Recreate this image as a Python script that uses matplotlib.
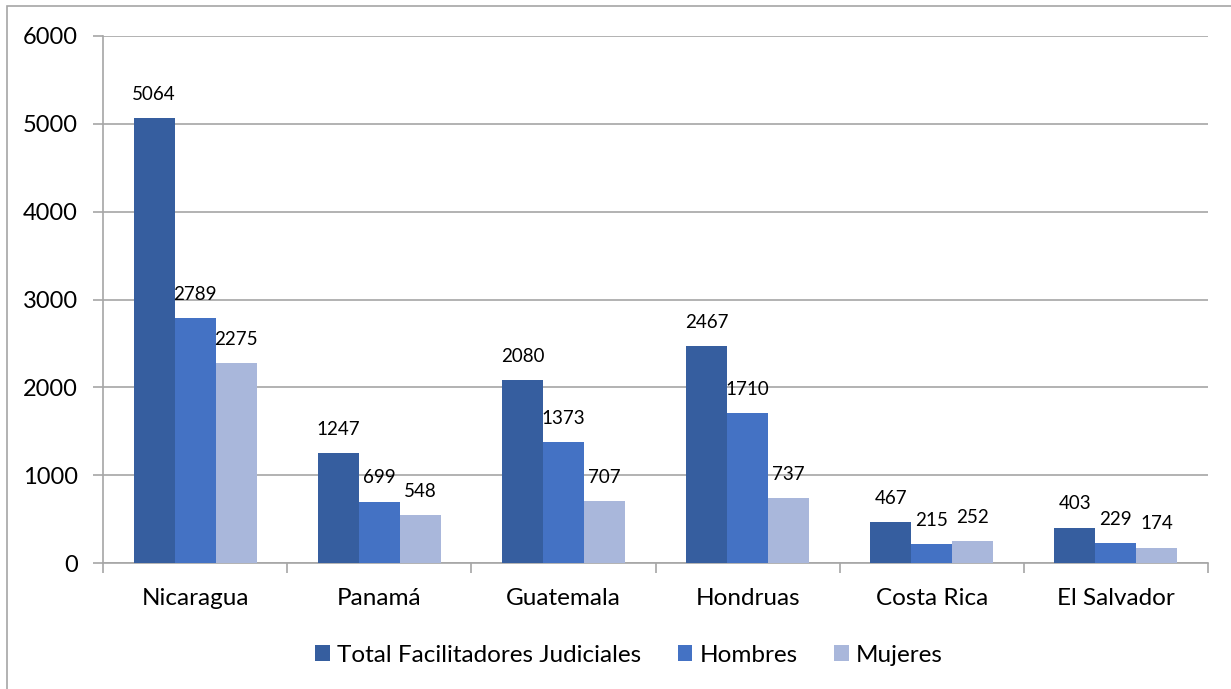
import matplotlib.pyplot as plt
import numpy as np
from matplotlib.patches import Rectangle

plt.rcParams['font.family'] = ['Lato', 'DejaVu Sans']

paises = ['Nicaragua', 'Panamá', 'Guatemala', 'Hondruas', 'Costa Rica', 'El Salvador']
total = [5064, 1247, 2080, 2467, 467, 403]
hombres = [2789, 699, 1373, 1710, 215, 229]
mujeres = [2275, 548, 707, 737, 252, 174]
series = ['Total Facilitadores Judiciales', 'Hombres', 'Mujeres']
colores = ['#365E9F', '#4472C4', '#A9B7DB']

W, H = 1231, 689
fig = plt.figure(figsize=(W / 100, H / 100), dpi=100)
# marco del grafico (solo se ven los lados izquierdo y superior)
fig.patches.append(Rectangle((7 / W, -0.5), 1.2, 1.5 - 6 / H, transform=fig.transFigure,
                             fill=False, edgecolor='#A6A6A6', linewidth=1.2))

ax = fig.add_axes([103 / W, 1 - 563 / H, (1208 - 103) / W, (563 - 36) / H])

x = np.arange(len(paises))
bw = 0.2226
grid_c = '#A6A6A6'
for i, (vals, nombre, c) in enumerate(zip([total, hombres, mujeres], series, colores)):
    pos = x + (i - 1) * bw
    ax.bar(pos, vals, width=bw, color=c, label=nombre, zorder=3)
    for p, v in zip(pos, vals):
        ax.annotate(str(v), (p, v), xytext=(0, 11), textcoords='offset points',
                    ha='center', va='bottom', fontsize=13.5)

ax.set_xlim(-0.5, len(paises) - 0.5)
ax.set_ylim(0, 6000)
ax.set_yticks(range(0, 6001, 1000))
ax.yaxis.grid(True, color=grid_c, linewidth=1.2, zorder=0)
ax.set_axisbelow(True)

ax.set_xticks(x)
ax.set_xticklabels(paises, fontsize=17.5)
ax.set_xticks(np.arange(-0.5, len(paises)), minor=True)
ax.tick_params(axis='x', which='major', length=0, pad=18)
ax.tick_params(axis='x', which='minor', length=7, color=grid_c, width=1.2)
ax.tick_params(axis='y', length=7, color=grid_c, width=1.2, labelsize=17, pad=11)

for s in ['top', 'right']:
    ax.spines[s].set_visible(False)
for s in ['left', 'bottom']:
    ax.spines[s].set_color(grid_c)
    ax.spines[s].set_linewidth(1.2)

ax.legend(loc='center', bbox_to_anchor=(0.476, -0.175), ncol=3, frameon=False,
          fontsize=17.5, handlelength=0.6, handleheight=0.6, handletextpad=0.3,
          columnspacing=1.5)

fig.savefig('out.png', dpi=100)
